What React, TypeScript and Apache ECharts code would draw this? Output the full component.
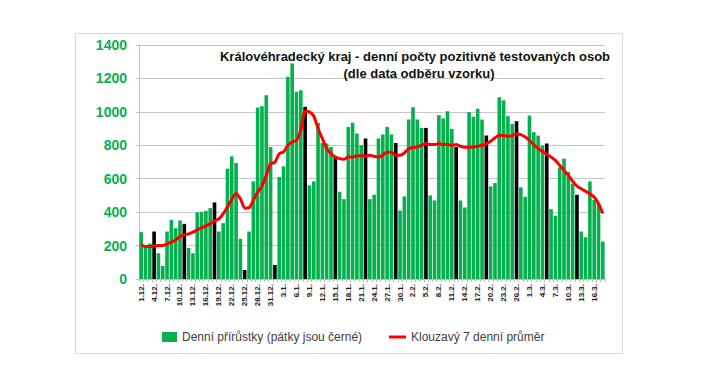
import React, { useEffect, useRef } from "react";
import * as echarts from "echarts";

const dates: string[] = [
  "1.12.", "2.12.", "3.12.", "4.12.", "5.12.", "6.12.", "7.12.", "8.12.", "9.12.", "10.12.",
  "11.12.", "12.12.", "13.12.", "14.12.", "15.12.", "16.12.", "17.12.", "18.12.", "19.12.", "20.12.",
  "21.12.", "22.12.", "23.12.", "24.12.", "25.12.", "26.12.", "27.12.", "28.12.", "29.12.", "30.12.", "31.12.",
  "1.1.", "2.1.", "3.1.", "4.1.", "5.1.", "6.1.", "7.1.", "8.1.", "9.1.", "10.1.",
  "11.1.", "12.1.", "13.1.", "14.1.", "15.1.", "16.1.", "17.1.", "18.1.", "19.1.", "20.1.",
  "21.1.", "22.1.", "23.1.", "24.1.", "25.1.", "26.1.", "27.1.", "28.1.", "29.1.", "30.1.", "31.1.",
  "1.2.", "2.2.", "3.2.", "4.2.", "5.2.", "6.2.", "7.2.", "8.2.", "9.2.", "10.2.",
  "11.2.", "12.2.", "13.2.", "14.2.", "15.2.", "16.2.", "17.2.", "18.2.", "19.2.", "20.2.",
  "21.2.", "22.2.", "23.2.", "24.2.", "25.2.", "26.2.", "27.2.", "28.2.",
  "1.3.", "2.3.", "3.3.", "4.3.", "5.3.", "6.3.", "7.3.", "8.3.", "9.3.", "10.3.",
  "11.3.", "12.3.", "13.3.", "14.3.", "15.3.", "16.3.", "17.3.", "18.3.",
];

const dailyCases: number[] = [
  // December
  280, 195, 212, 284, 154, 78, 284, 354, 304, 350,
  330, 186, 154, 398, 402, 408, 424, 458, 284, 334,
  660, 734, 694, 240, 54, 284, 584, 1026, 1034, 1100, 790,
  // January
  84, 610, 674, 1210, 1290, 1120, 1130, 1030, 560, 584,
  934, 814, 810, 790, 734, 522, 478, 910, 935, 870,
  800, 840, 478, 504, 840, 864, 910, 864, 814, 410, 494,
  // February
  954, 1028, 954, 904, 904, 500, 470, 980, 960, 1004,
  898, 790, 470, 428, 998, 970, 1018, 954, 858, 554,
  574, 1088, 1070, 974, 928, 944, 548, 492,
  // March
  978, 878, 858, 798, 810, 418, 378, 668, 720, 640,
  570, 504, 284, 250, 584, 474, 454, 224,
];

const movingAverage: number[] = [
  // December
  204, 194, 194, 198, 200, 200, 210, 220, 234, 254,
  264, 270, 280, 294, 306, 318, 330, 346, 360, 390,
  430, 476, 512, 480, 424, 426, 470, 520, 556, 620, 690,
  // January
  698, 750, 760, 800, 820, 830, 890, 1004, 1000, 975,
  900, 840, 780, 750, 730, 720, 716, 730, 730, 736,
  738, 734, 740, 734, 730, 740, 758, 758, 740, 740, 754,
  // February
  780, 786, 790, 800, 810, 804, 804, 810, 804, 804,
  800, 804, 794, 788, 788, 790, 794, 800, 810, 824,
  844, 860, 858, 854, 858, 868, 864, 850,
  // March
  830, 804, 780, 764, 745, 730, 710, 680, 650, 620,
  585, 556, 540, 525, 510, 490, 450, 392,
];

const fridays: string[] = [
  "4.12.", "11.12.", "18.12.", "25.12.", "1.1.", "8.1.", "15.1.", "22.1.",
  "29.1.", "5.2.", "12.2.", "19.2.", "26.2.", "5.3.", "12.3.",
];

const barName = "Denní přírůstky (pátky jsou černé)";
const lineName = "Klouzavý 7 denní průměr";
const titleLine1 = "Královéhradecký kraj - denní počty pozitivně testovaných osob";
const titleLine2 = "(dle data odběru vzorku)";

const GREEN = "#06B04F";
const FONT = "'Liberation Sans', Arial, sans-serif";

export default function App() {
  const ref = useRef<HTMLDivElement>(null);

  useEffect(() => {
    if (!ref.current) return;
    const chart = echarts.init(ref.current, null, { renderer: "svg" });
    chart.setOption({
      animation: false,
      backgroundColor: "#ffffff",
      textStyle: { fontFamily: FONT },
      grid: { left: 139, right: 97, top: 45, bottom: 104, containLabel: false },
      graphic: [
        {
          type: "rect",
          shape: { x: 75.5, y: 33.5, width: 547, height: 320 },
          style: { fill: "none", stroke: "#d9d9d9", lineWidth: 1 },
          silent: true,
          z: -10,
        },
        {
          type: "text",
          x: 415,
          y: 56,
          style: {
            text: titleLine1,
            fill: "#111111",
            font: `bold 13px ${FONT}`,
            textAlign: "center",
            textVerticalAlign: "middle",
          },
          z: 100,
        },
        {
          type: "text",
          x: 419,
          y: 73,
          style: {
            text: titleLine2,
            fill: "#111111",
            font: `bold 13px ${FONT}`,
            textAlign: "center",
            textVerticalAlign: "middle",
          },
          z: 100,
        },
      ],
      legend: [
        {
          data: [{ name: barName, icon: "rect" }],
          left: 157,
          top: 326,
          itemWidth: 15,
          itemHeight: 10,
          textStyle: { fontSize: 12, color: "#404040", fontFamily: FONT },
        },
        {
          data: [{ name: lineName, icon: "rect" }],
          left: 384,
          top: 326,
          itemWidth: 17,
          itemHeight: 3,
          textStyle: { fontSize: 12, color: "#404040", fontFamily: FONT },
        },
      ],
      xAxis: {
        type: "category",
        data: dates,
        boundaryGap: true,
        axisLine: { show: true, lineStyle: { color: "#bfbfbf" } },
        axisTick: { show: true, interval: 0, length: 3, lineStyle: { color: "#bfbfbf" } },
        axisLabel: {
          interval: 2,
          rotate: 90,
          fontSize: 8,
          fontWeight: "bold",
          color: "#222222",
          margin: 5,
          fontFamily: FONT,
        },
      },
      yAxis: {
        type: "value",
        min: 0,
        max: 1400,
        interval: 200,
        axisLine: { show: true, lineStyle: { color: "#bfbfbf" } },
        axisTick: { show: true, length: 3, lineStyle: { color: "#bfbfbf" } },
        splitLine: { show: true, lineStyle: { color: "#c8c8c8", width: 1 } },
        axisLabel: {
          fontSize: 14,
          fontWeight: "bold",
          color: GREEN,
          margin: 12,
          fontFamily: FONT,
          formatter: (v: number) => String(v),
        },
      },
      series: [
        {
          name: barName,
          type: "bar",
          barCategoryGap: "16%",
          itemStyle: { color: GREEN },
          data: dailyCases.map((v, i) =>
            fridays.includes(dates[i]) ? { value: v, itemStyle: { color: "#000000" } } : v
          ),
          z: 2,
        },
        {
          name: lineName,
          type: "line",
          data: movingAverage,
          showSymbol: false,
          smooth: 0.2,
          itemStyle: { color: "#ff0000" },
          lineStyle: { color: "#ff0000", width: 3 },
          z: 5,
        },
      ],
    });
    return () => chart.dispose();
  }, []);

  return (
    <div
      ref={ref}
      style={{ position: "fixed", left: 0, top: 0, width: 702, height: 383, background: "#ffffff" }}
    />
  );
}
